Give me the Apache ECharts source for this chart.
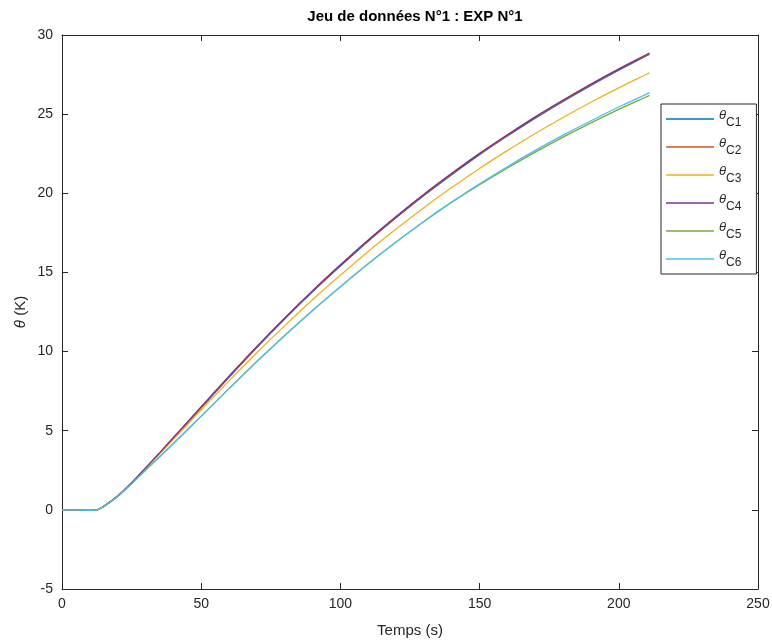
<!DOCTYPE html>
<html>
<head>
<meta charset="utf-8">
<script src="https://cdn.jsdelivr.net/npm/echarts@6/dist/echarts.min.js"></script>
<style>
html,body{margin:0;padding:0;background:#fff;}
#chart{width:772px;height:641px;}
</style>
</head>
<body>
<div id="chart"></div>
<script>
// ---- data ----
var titleText = 'Jeu de données N°1 : EXP N°1';
var xName = 'Temps (s)';
var seriesNames = ['C1', 'C2', 'C3', 'C4', 'C5', 'C6'];
var time = [0, 5, 10, 12, 15, 20, 25, 30, 35, 40, 45, 50, 60, 70, 80, 90, 100, 110, 120, 130, 140, 150, 160, 170, 180, 190, 200, 210, 211];
var thetaC1 = [0, 0, -0.03, -0.02, 0.22, 0.87, 1.69, 2.60, 3.54, 4.50, 5.46, 6.44, 8.37, 10.25, 12.05, 13.77, 15.40, 16.97, 18.45, 19.86, 21.18, 22.44, 23.62, 24.75, 25.81, 26.82, 27.78, 28.69, 28.78];
var thetaC2 = [0, 0, -0.03, -0.02, 0.22, 0.87, 1.70, 2.62, 3.57, 4.54, 5.51, 6.48, 8.41, 10.29, 12.09, 13.81, 15.44, 17.01, 18.49, 19.90, 21.22, 22.48, 23.66, 24.79, 25.85, 26.86, 27.82, 28.73, 28.82];
var thetaC3 = [0, 0, -0.03, -0.02, 0.22, 0.87, 1.70, 2.60, 3.52, 4.45, 5.38, 6.32, 8.15, 9.93, 11.64, 13.28, 14.83, 16.33, 17.74, 19.09, 20.36, 21.57, 22.70, 23.78, 24.79, 25.75, 26.66, 27.52, 27.61];
var thetaC4 = [0, 0, -0.03, -0.02, 0.22, 0.87, 1.72, 2.65, 3.60, 4.57, 5.54, 6.52, 8.45, 10.33, 12.13, 13.85, 15.48, 17.05, 18.53, 19.94, 21.26, 22.52, 23.70, 24.83, 25.89, 26.90, 27.86, 28.77, 28.86];
var thetaC5 = [0, 0, -0.03, -0.02, 0.21, 0.85, 1.65, 2.50, 3.34, 4.19, 5.05, 5.92, 7.66, 9.37, 11.02, 12.60, 14.10, 15.55, 16.92, 18.22, 19.44, 20.55, 21.60, 22.60, 23.55, 24.45, 25.30, 26.10, 26.18];
var thetaC6 = [0, 0, -0.03, -0.02, 0.21, 0.85, 1.65, 2.50, 3.34, 4.19, 5.05, 5.92, 7.66, 9.37, 11.02, 12.60, 14.10, 15.55, 16.92, 18.22, 19.44, 20.60, 21.68, 22.71, 23.67, 24.58, 25.45, 26.27, 26.36];
var xTicks = [0, 50, 100, 150, 200, 250];
var yTicks = [-5, 0, 5, 10, 15, 20, 25, 30];

// ---- styling ----
var colors = ['#0072BD', '#D95319', '#EDB120', '#7E2F8E', '#77AC30', '#4DBEEE'];
var allSeries = [thetaC1, thetaC2, thetaC3, thetaC4, thetaC5, thetaC6];
var FONT = '"Liberation Sans", Arial, Helvetica, sans-serif';
var AX = '#262626';

var chart = echarts.init(document.getElementById('chart'), null, {renderer: 'canvas'});

var series = seriesNames.map(function (n, i) {
  return {
    name: n,
    type: 'line',
    xAxisIndex: 0,
    yAxisIndex: 0,
    showSymbol: false,
    symbol: 'none',
    smooth: 0.4,
    lineStyle: {width: 1.3, color: colors[i]},
    itemStyle: {color: colors[i]},
    data: time.map(function (t, k) { return [t, allSeries[i][k]]; }),
    z: 2 + i,
    animation: false
  };
});

var xMin = xTicks[0], xMax = xTicks[xTicks.length - 1];
var yMin = yTicks[0], yMax = yTicks[yTicks.length - 1];

function axisCommon(extra) {
  var base = {
    type: 'value',
    axisLine: {show: true, onZero: false, lineStyle: {color: AX, width: 1}},
    axisTick: {show: true, inside: true, length: 6, lineStyle: {color: AX}},
    splitLine: {show: false}
  };
  for (var k in extra) base[k] = extra[k];
  return base;
}

var option = {
  backgroundColor: '#ffffff',
  animation: false,
  title: {
    text: titleText,
    left: 410,
    textAlign: 'center',
    top: 4,
    textStyle: {fontFamily: FONT, fontSize: 15, fontWeight: 'bold', color: '#000'}
  },
  legend: {
    orient: 'vertical',
    left: 661,
    top: 104,
    padding: [5, 15, 5, 5],
    itemGap: 8,
    itemWidth: 48,
    itemHeight: 20,
    borderColor: '#262626',
    borderWidth: 1,
    borderRadius: 0,
    backgroundColor: '#fff',
    icon: 'path://M0,10 L48,10 L48,11.3 L0,11.3 Z',
    data: seriesNames.map(function (n, i) { return {name: n, itemStyle: {color: colors[i]}}; }),
    formatter: function (name) { return '{t|θ}{s|' + name + '}'; },
    textStyle: {
      fontFamily: FONT,
      color: '#000',
      rich: {
        t: {fontFamily: FONT, fontStyle: 'italic', fontSize: 13, color: '#262626', verticalAlign: 'top', lineHeight: 20, padding: [0, 0, 7, 0]},
        s: {fontFamily: FONT, fontSize: 12, color: '#262626', verticalAlign: 'bottom', lineHeight: 20, padding: [7, 0, 0, 0]}
      }
    }
  },
  grid: {left: 62, right: 14, top: 35, bottom: 52, containLabel: false, outerBoundsMode: 'none', show: false},
  xAxis: [axisCommon({
    min: xMin, max: xMax, interval: 50, position: 'bottom',
    name: xName, nameLocation: 'middle', nameGap: 34,
    nameTextStyle: {fontFamily: FONT, fontSize: 15, color: AX},
    axisLabel: {fontFamily: FONT, fontSize: 14, color: AX, margin: 8}
  }), axisCommon({
    min: xMin, max: xMax, interval: 50, position: 'top',
    axisLabel: {show: false}
  })],
  yAxis: [axisCommon({
    min: yMin, max: yMax, interval: 5, position: 'left',
    axisLabel: {fontFamily: FONT, fontSize: 14, color: AX, margin: 9}
  }), axisCommon({
    min: yMin, max: yMax, interval: 5, position: 'right',
    axisLabel: {show: false}
  })],
  graphic: [{
    type: 'text',
    x: 21,
    y: 312,
    rotation: Math.PI / 2,
    style: {
      text: '{t|θ}{n| (K)}',
      fontFamily: FONT,
      align: 'center',
      verticalAlign: 'middle',
      rich: {
        t: {fontFamily: FONT, fontStyle: 'italic', fontSize: 15, fill: AX},
        n: {fontFamily: FONT, fontSize: 15, fill: AX}
      }
    }
  }],
  series: series
};
chart.setOption(option);
</script>
</body>
</html>
